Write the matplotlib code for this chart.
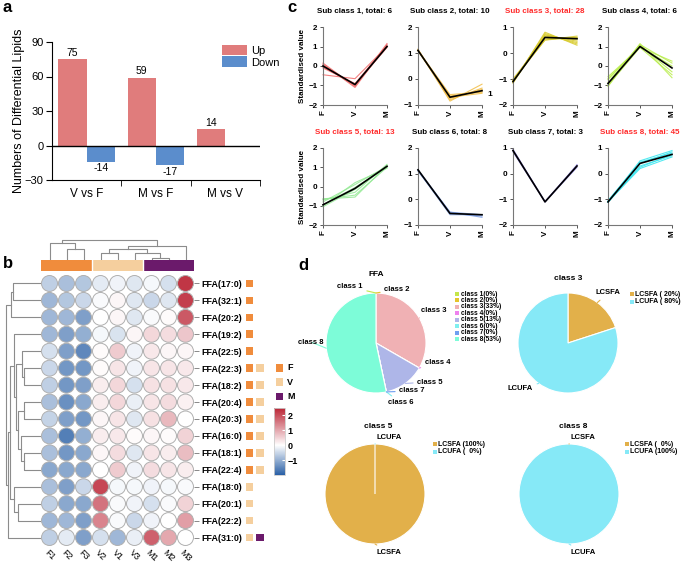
import numpy as np
import matplotlib.pyplot as plt
from matplotlib.patches import Circle, Rectangle
from matplotlib.colors import LinearSegmentedColormap, Normalize
from matplotlib.cm import ScalarMappable

plt.rcParams['font.family'] = ['Liberation Sans', 'DejaVu Sans', 'Noto Sans CJK SC']

W, H = 685, 567

# ---------------- panel a data
comparisons = ['V vs F', 'M vs F', 'M vs V']
up_counts = [75, 59, 14]
down_counts = [-14, -17, 0]

# ---------------- panel b data
samples = ['F1', 'F2', 'F3', 'V2', 'V1', 'V3', 'M1', 'M2', 'M3']
sample_groups = ['F', 'F', 'F', 'V', 'V', 'V', 'M', 'M', 'M']
lipids = ['FFA(17:0)', 'FFA(32:1)', 'FFA(20:2)', 'FFA(19:2)', 'FFA(22:5)', 'FFA(22:3)',
          'FFA(18:2)', 'FFA(20:4)', 'FFA(20:3)', 'FFA(16:0)', 'FFA(18:1)', 'FFA(22:4)',
          'FFA(18:0)', 'FFA(20:1)', 'FFA(22:2)', 'FFA(31:0)']
lipid_groups = [['F'], ['F'], ['F'], ['F'], ['F'], ['F', 'V'], ['F', 'V'], ['F', 'V'],
                ['F', 'V'], ['F', 'V'], ['F', 'V'], ['F', 'V'], ['V'], ['V'], ['V'], ['V', 'M']]
zscores = [
    [-0.6, -0.8, -0.7, -0.25, -0.15, -0.3, -0.1, -0.4, 2.3],
    [-0.9, -0.7, -0.5, -0.05, 0.1, -0.3, -0.5, -0.3, 2.2],
    [-0.9, -0.9, -1.2, 0.0, 0.1, -0.3, -0.05, 0.05, 1.9],
    [-0.9, -1.2, -1.0, -0.1, -0.35, 0.1, 0.45, 0.4, 0.65],
    [-0.4, -1.2, -1.5, 0.05, 0.6, -0.15, 0.25, 0.1, 0.1],
    [-0.5, -1.3, -1.3, 0.05, 0.3, -0.15, 0.3, 0.3, 0.25],
    [-0.6, -1.3, -1.2, 0.2, 0.45, -0.4, 0.35, 0.35, 0.25],
    [-0.8, -1.4, -1.1, 0.2, 0.45, -0.2, 0.3, 0.4, 0.15],
    [-0.55, -1.2, -1.3, 0.1, 0.3, -0.3, 0.35, 0.8, 0.0],
    [-0.8, -1.6, -1.0, 0.2, 0.25, 0.05, 0.1, 0.05, 0.5],
    [-0.8, -1.3, -1.1, 0.1, 0.4, -0.3, 0.3, 0.2, 0.75],
    [-1.1, -1.1, -1.1, 0.0, 0.6, -0.15, 0.4, 0.3, 0.2],
    [-0.8, -1.2, -0.5, 2.1, -0.1, -0.1, -0.15, -0.1, -0.05],
    [-0.6, -1.1, -1.1, 1.6, -0.05, -0.15, -0.4, -0.05, 0.5],
    [-0.9, -0.9, -1.2, 1.4, -0.05, -0.5, -0.15, 0.0, 1.1],
    [-0.6, -0.25, -1.2, -0.4, -0.9, -0.2, 1.8, 1.0, 0.0],
]
# (left, right, height) merges, scipy style numbering
col_links = [(1, 2, 11), (0, 9, 16.7), (3, 4, 6.7), (6, 7, 2.3), (5, 12, 6.7),
             (11, 13, 11), (14, 8, 14.3), (10, 15, 20)]
row_links = [(0, 1, 28), (16, 2, 30.3), (5, 6, 17), (4, 18, 19), (7, 8, 17), (10, 11, 17),
             (9, 21, 20), (20, 22, 23), (19, 23, 25), (3, 24, 27), (13, 14, 23), (12, 26, 27),
             (25, 27, 31), (28, 15, 33), (17, 29, 35)]

# ---------------- panel c data
sub_totals = [6, 10, 28, 6, 13, 8, 3, 45]
sub_red = [False, False, True, False, True, False, False, True]
sub_ylims = [(-2, 2), (-1, 2), (-2, 1), (-2, 2), (-2, 2), (-1, 2), (-2, 1), (-2, 1)]
sub_means = [[0.0, -0.95, 1.0], [1.1, -0.7, -0.45], [-1.1, 0.6, 0.55], [-0.9, 1.0, -0.1],
             [-0.95, -0.1, 1.05], [1.15, -0.55, -0.6], [0.9, -1.1, 0.3], [-1.1, 0.4, 0.75]]
sub1_lines = [[0.15, -1.05, 1.15], [-0.45, -0.65, 1.0], [0.05, -1.0, 1.0],
              [-0.05, -0.95, 0.95], [0.1, -1.1, 1.1], [-0.1, -0.9, 1.05]]
sub2_lines = [[1.15, -0.85, -0.2], [1.1, -0.6, -0.5], [1.1, -0.7, -0.45], [1.12, -0.75, -0.4],
              [1.08, -0.65, -0.5], [1.1, -0.8, -0.35], [1.1, -0.7, -0.55]]
sub3_lines = [[-1.15, 0.8, 0.3], [-1.05, 0.5, 0.65], [-1.1, 0.7, 0.45], [-1.0, 0.55, 0.6],
              [-1.12, 0.75, 0.35], [-1.08, 0.6, 0.55], [-1.1, 0.65, 0.5], [-1.05, 0.5, 0.6],
              [-1.15, 0.7, 0.4]]
sub4_lines = [[-1.05, 1.15, -0.6], [-0.55, 0.95, 0.25], [-0.7, 1.05, -0.3],
              [-0.85, 1.1, 0.15], [-1.0, 0.95, -0.45], [-0.65, 1.0, 0.0]]
sub5_lines = [[-1.0, 0.2, 0.95], [-0.65, -0.55, 1.1], [-0.7, -0.3, 1.15], [-0.95, -0.05, 1.0],
              [-0.8, 0.1, 1.05], [-0.65, -0.45, 1.0], [-1.05, -0.15, 1.05]]
sub6_lines = [[1.15, -0.5, -0.7], [1.12, -0.6, -0.6], [1.15, -0.55, -0.65], [1.1, -0.5, -0.6]]
sub7_lines = [[0.95, -1.1, 0.35], [0.85, -1.1, 0.25], [0.9, -1.08, 0.3]]
sub8_lines = [[-1.1, 0.5, 0.9], [-1.1, 0.2, 0.65], [-1.05, 0.45, 0.8], [-1.12, 0.3, 0.7],
              [-1.08, 0.4, 0.85], [-1.1, 0.25, 0.75]]
sub_lines = [sub1_lines, sub2_lines, sub3_lines, sub4_lines,
             sub5_lines, sub6_lines, sub7_lines, sub8_lines]
sub_colors = ['#f26b6b', '#f2bd45', '#d8cb2c', '#b9ee4c', '#93e993', '#7d9ee6', '#8b7de3', '#37e6ef']
stages = ['F', 'V', 'M']

# ---------------- panel d data
ffa_classes = ['class 1', 'class 2', 'class 3', 'class 4', 'class 5', 'class 6', 'class 7', 'class 8']
ffa_counts = [0, 0, 5, 0, 2, 0, 0, 8]
ffa_colors = ['#c5e64a', '#e5c42c', '#f0b1b4', '#ee82ee', '#aeb6e8', '#7fefef', '#6f9ff0', '#7dfcd8']
chain_types = ['LCSFA', 'LCUFA']
chain_colors = ['#e2b04a', '#86e9f7']
class3_pct = [20, 80]
class5_pct = [100, 0]
class8_pct = [0, 100]


def box(l, t, r, b):
    return [l / W, 1 - b / H, (r - l) / W, (b - t) / H]


fig = plt.figure(figsize=(W / 100, H / 100), dpi=100)

# ======================= a
ax = fig.add_axes(box(52, 42, 260, 180))
x = np.arange(len(comparisons))
bw = 0.41
ax.bar(x - bw / 2, up_counts, bw, color='#e07c7c', lw=0, label='Up')
ax.bar(x + bw / 2, down_counts, bw, color='#5b8dcc', lw=0, label='Down')
for i in range(3):
    ax.text(x[i] - bw / 2, up_counts[i] + 1.5, str(up_counts[i]), ha='center', va='bottom', fontsize=7.5)
    if down_counts[i] != 0:
        ax.text(x[i] + bw / 2, down_counts[i] - 1.5, str(down_counts[i]), ha='center', va='top', fontsize=7.5)
ax.axhline(0, color='black', lw=1)
ax.set_xlim(-0.5, 2.5)
ax.set_ylim(-30, 90)
ax.set_yticks([-30, 0, 30, 60, 90])
ax.set_xticks(x, comparisons)
ax.set_xticks([0.5, 1.5, 2.5], minor=True)
ax.tick_params(axis='x', which='major', length=0, labelsize=8.5, pad=6)
ax.tick_params(axis='x', which='minor', length=4)
ax.tick_params(axis='y', labelsize=8, length=4, pad=2)
for s in ['top', 'right']:
    ax.spines[s].set_visible(False)
ax.set_ylabel('Numbers of Differential Lipids', fontsize=9)
ax.yaxis.set_label_coords(-0.13, 0.5)
ax.legend(loc='upper left', bbox_to_anchor=(0.79, 1.02), frameon=False, fontsize=8,
          handlelength=2.3, handleheight=1.1, handletextpad=0.3, labelspacing=0.05, borderpad=0)

# ======================= b
cmap = LinearSegmentedColormap.from_list('bw_r', [(0, '#2a60a6'), (0.444, '#ffffff'), (1, '#bb2535')])
norm = Normalize(-2, 2.5)
group_colors = {'F': '#f08c3c', 'V': '#f5cf9e', 'M': '#6b1a6b'}

hm = fig.add_axes(box(41, 275, 194, 546))
hm.set_xlim(0, 9)
hm.set_ylim(16, 0)
for i, row in enumerate(zscores):
    for j, v in enumerate(row):
        hm.add_patch(Circle((j + 0.5, i + 0.5), 0.47, fc=cmap(norm(v)), ec='#b0b0b0', lw=0.7))
for s in hm.spines.values():
    s.set_visible(False)
hm.set_xticks([])
hm.yaxis.tick_right()
hm.set_yticks(np.arange(16) + 0.5, lipids)
hm.tick_params(axis='y', length=3.5, width=0.7, color='#888888', pad=1.8, labelsize=6.4)
for lab in hm.get_yticklabels():
    lab.set_fontweight('bold')
for j, s in enumerate(samples):
    hm.text(j + 0.5, 16.55, s, rotation=-45, ha='center', va='center', fontsize=6.5)
for i, grps in enumerate(lipid_groups):
    for k, g in enumerate(grps):
        hm.add_patch(Rectangle((12.04 + 0.61 * k, i + 0.5 - 0.225), 0.45, 0.45,
                               fc=group_colors[g], ec='none', clip_on=False))

# column annotation
ca = fig.add_axes(box(41, 260, 194, 271))
ca.set_xlim(0, 9)
ca.set_ylim(0, 1)
for j, g in enumerate(sample_groups):
    ca.add_patch(Rectangle((j, 0), 1, 1, fc=group_colors[g], ec='none'))
for j in (3, 6):
    ca.axvline(j, color='white', lw=1)
ca.axis('off')


def draw_tree(ax, links, n, vertical):
    pos = {i: (i + 0.5, 0.0) for i in range(n)}
    for k, (a, b, h) in enumerate(links):
        pa, pb = pos[a], pos[b]
        xs = [pa[0], pa[0], pb[0], pb[0]]
        hs = [pa[1], h, h, pb[1]]
        if vertical:
            ax.plot(xs, hs, color='#8c8c8c', lw=0.8)
        else:
            ax.plot(hs, xs, color='#8c8c8c', lw=0.8)
        pos[n + k] = ((pa[0] + pb[0]) / 2, h)


cd = fig.add_axes(box(41, 236, 194, 260))
cd.set_xlim(0, 9)
cd.set_ylim(0, 24)
draw_tree(cd, col_links, 9, True)
cd.axis('off')

rd = fig.add_axes(box(3, 275, 41, 546))
rd.set_xlim(38, 0)
rd.set_ylim(16, 0)
draw_tree(rd, row_links, 16, False)
rd.axis('off')

cax = fig.add_axes(box(274, 408, 285, 475))
cb = fig.colorbar(ScalarMappable(norm=norm, cmap=cmap), cax=cax)
cb.set_ticks([-1, 0, 1, 2])
cb.outline.set_edgecolor('#cccccc')
cb.outline.set_linewidth(0.6)
cax.tick_params(direction='in', color='white', length=2.5, labelsize=6.5, pad=2)
for lab in cax.get_yticklabels():
    lab.set_fontweight('bold')

# ======================= c
xs = np.arange(3)
for k in range(8):
    r, c = divmod(k, 4)
    left = 323 + 95 * c
    top, bot = (27, 105) if r == 0 else (148, 225)
    ax = fig.add_axes(box(left, top, left + 64, bot))
    for ln in sub_lines[k]:
        ax.plot(xs, ln, color=sub_colors[k], lw=0.8, alpha=0.85, clip_on=False)
    ax.plot(xs, sub_means[k], color='black', lw=1.2, clip_on=False, zorder=5)
    ax.set_xlim(0, 2)
    ax.set_ylim(*sub_ylims[k])
    ax.set_yticks(np.arange(sub_ylims[k][0], sub_ylims[k][1] + 1))
    ax.set_xticks(xs, stages, rotation=90)
    ax.tick_params(labelsize=5.8, length=2.5, width=0.7, pad=1.5, color='#555555')
    for lab in ax.get_xticklabels() + ax.get_yticklabels():
        lab.set_fontweight('bold')
    for s in ['top', 'right']:
        ax.spines[s].set_visible(False)
    for s in ['left', 'bottom']:
        ax.spines[s].set_color('#777777')
        ax.spines[s].set_linewidth(0.8)
    ax.set_title(f'Sub class {k + 1}, total: {sub_totals[k]}', fontsize=5.8, fontweight='bold',
                 color='#ff2a2a' if sub_red[k] else 'black', pad=10)
    if c == 0:
        ax.set_ylabel('Standardised value', fontsize=5.8, fontweight='bold')
        ax.yaxis.set_label_coords(-0.26, 0.5)

# ======================= d


def pie_panel(cx, cy, values, colors, names, label_xy, label_ha):
    ax = fig.add_axes(box(cx - 52.5, cy - 52.5, cx + 52.5, cy + 52.5))
    ax.pie(values, colors=colors, startangle=90, counterclock=False, radius=1,
           wedgeprops=dict(edgecolor='white', linewidth=0.8))
    ax.set_xlim(-1.05, 1.05)
    ax.set_ylim(-1.05, 1.05)
    tot = sum(values)
    cum = 0
    for v, name, col, (tx, ty), ha in zip(values, names, colors, label_xy, label_ha):
        mid = np.deg2rad(90 - 360 * (cum + v / 2) / tot)
        cum += v
        ax.annotate(name, xy=(np.cos(mid), np.sin(mid)), xytext=(tx, ty), ha=ha, va='center',
                    fontsize=5.5, fontweight='bold', annotation_clip=False,
                    arrowprops=dict(arrowstyle='-', color=col, lw=0.8, shrinkA=1, shrinkB=0))
    return ax


pie_panel(376, 343, ffa_counts, ffa_colors, ffa_classes,
          [(-0.52, 1.12), (0.42, 1.07), (1.16, 0.64), (1.23, -0.40),
           (1.08, -0.78), (0.5, -1.2), (0.72, -0.96), (-1.3, 0.02)],
          ['center'] * 8)
pie_panel(568, 343, class3_pct, chain_colors, chain_types,
          [(0.8, 1.0), (-0.7, -0.9)], ['center', 'right'])
pie_panel(375, 494, class5_pct, chain_colors, ['LCSFA', 'LCUFA'],
          [(0.03, -1.16), (0.03, 1.14)], ['left', 'left'])
pie_panel(569, 494, class8_pct, chain_colors, ['LCSFA', 'LCUFA'],
          [(0.03, 1.14), (0.03, -1.16)], ['left', 'left'])

# ======================= overlay: panel letters, legends, titles
ov = fig.add_axes([0, 0, 1, 1], zorder=10)
ov.set_xlim(0, W)
ov.set_ylim(H, 0)
ov.axis('off')

for lab, (px, py) in zip('abcd', [(3, 7), (3, 264), (287, 8), (298, 265)]):
    ov.text(px, py, lab, fontsize=12, fontweight='bold', va='center', ha='left')

ov.text(487, 95, '1', fontsize=6, fontweight='bold', va='center')

# heatmap group legend
for k, g in enumerate(['F', 'V', 'M']):
    yy = 368 + 14.3 * k
    ov.add_patch(Rectangle((276.5, yy - 4), 7, 7.5, fc=group_colors[g], ec='none'))
    ov.text(287, yy, g, fontsize=6.5, fontweight='bold', va='center')

# pie titles
for t, (px, py) in zip(['FFA', 'class 3', 'class 5', 'class 8'],
                       [(376, 274), (568, 279), (378, 427), (573, 426)]):
    ov.text(px, py, t, fontsize=6, fontweight='bold', ha='center', va='center')

# FFA pie legend
tot = sum(ffa_counts)
for k in range(8):
    yy = 294 + 6.47 * k
    ov.add_patch(Rectangle((455, yy - 2), 4, 4, fc=ffa_colors[k], ec='none'))
    ov.text(461, yy, f'{ffa_classes[k]}({round(100 * ffa_counts[k] / tot)}%)',
            fontsize=4.8, fontweight='bold', va='center')

# chain pie legends
for (lx, ly), pcts in zip([(630, 294), (433, 444), (625, 444)], [class3_pct, class5_pct, class8_pct]):
    for k in range(2):
        yy = ly + 7.5 * k
        ov.add_patch(Rectangle((lx, yy - 2), 4, 4, fc=chain_colors[k], ec='none'))
        ov.text(lx + 5.5, yy, f'{chain_types[k]} ({pcts[k]:>3}%)', fontsize=5, fontweight='bold', va='center')

fig.savefig('out.png', dpi=100)
